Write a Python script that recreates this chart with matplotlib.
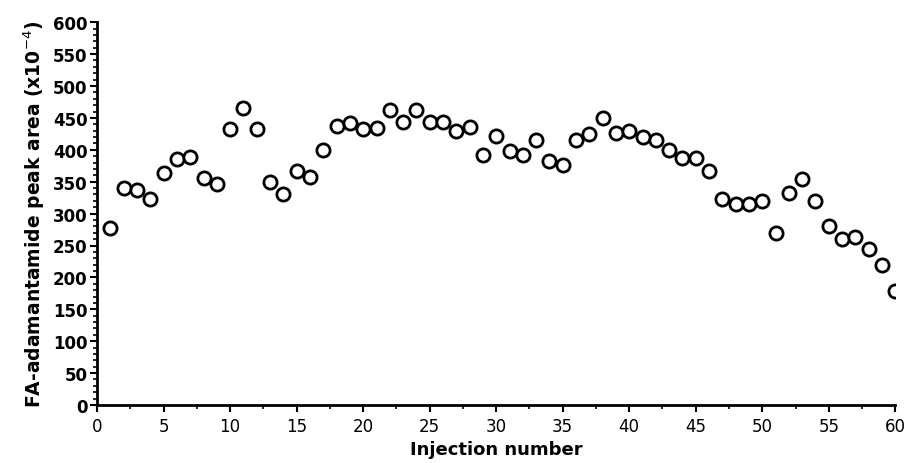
import matplotlib
matplotlib.use("Agg")
import matplotlib.pyplot as plt
from matplotlib.ticker import MultipleLocator

injection = list(range(1, 61))
peak_area = [
    278, 340, 337, 323, 363, 386, 389, 356, 346, 433,
    466, 433, 350, 331, 367, 358, 400, 437, 442, 432,
    434, 462, 443, 463, 444, 444, 430, 435, 392, 421,
    398, 392, 415, 382, 376, 415, 425, 450, 426, 430,
    420, 416, 400, 387, 387, 367, 323, 315, 315, 320,
    270, 332, 355, 320, 280, 260, 264, 244, 220, 178,
]

plt.rcParams["font.family"] = ["DejaVu Sans"]

fig = plt.figure(figsize=(9.08, 4.64), dpi=100)
ax = fig.add_axes([0.107, 0.125, 0.879, 0.825])

ax.plot(injection, peak_area, linestyle="none", marker="o", markersize=9.5,
        markerfacecolor="white", markeredgecolor="black", markeredgewidth=2)

ax.set_xlim(0, 60)
ax.set_ylim(0, 600)
ax.xaxis.set_major_locator(MultipleLocator(5))
ax.xaxis.set_minor_locator(MultipleLocator(2.5))
ax.yaxis.set_major_locator(MultipleLocator(50))
ax.yaxis.set_minor_locator(MultipleLocator(10))

for side in ("top", "right"):
    ax.spines[side].set_visible(False)
for side in ("left", "bottom"):
    ax.spines[side].set_linewidth(2)

ax.tick_params(which="major", length=5, width=1.5, labelsize=12)
ax.tick_params(which="minor", length=3, width=1.2)
ax.tick_params(axis="y", pad=2)
for lbl in ax.get_yticklabels():
    lbl.set_fontweight("bold")

ax.set_xlabel("Injection number", fontsize=13, fontweight="bold")
ax.set_ylabel("FA-adamantamide peak area (x10$^{-4}$)", fontsize=13.5,
              fontweight="bold", labelpad=4)

fig.savefig("out.png", dpi=100)
